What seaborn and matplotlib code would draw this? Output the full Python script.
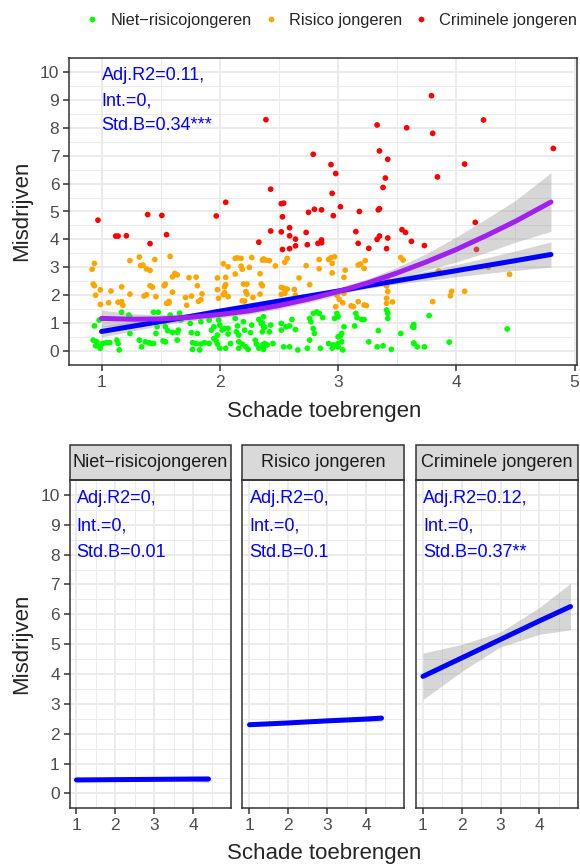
import matplotlib
matplotlib.use("Agg")
import matplotlib.pyplot as plt
from matplotlib.patches import Rectangle
from matplotlib.ticker import MultipleLocator
import pandas as pd
import seaborn as sns

GROUPS = ["Niet−risicojongeren", "Risico jongeren", "Criminele jongeren"]
GROUP_COLORS = ["#00FF00", "#FFA500", "#FF0000"]

# jittered points (schade toebrengen, misdrijven)
niet_pts = [
    (0.94, 0.9), (0.98, 1.11), (0.93, 0.39), (0.95, 0.19), (0.96, 0.33), (0.98, 0.18), (0.99, 0.1),
    (1.01, 0.27), (1.04, 0.3), (1.07, 0.3), (1.13, 0.39), (1.14, 0.27), (1.15, 0.04), (1.17, 1.39),
    (1.23, 1.29), (1.24, 1.23), (1.24, 0.63), (1.32, 0.39), (1.34, 0.15), (1.37, 0.33), (1.4, 0.3),
    (1.42, 0.27), (1.44, 0.27), (1.44, 1.39), (1.48, 1.39), (1.47, 0.87), (1.46, 0.63), (1.53, 1.05),
    (1.54, 0.87), (1.56, 0.73), (1.58, 1.29), (1.6, 0.67), (1.64, 0.67), (1.66, 1.36), (1.64, 0.39),
    (1.52, 0.36), (1.54, 0.33), (1.67, 1.11), (1.65, 0.75), (1.75, 0.99), (1.76, 0.66), (1.81, 0.63),
    (1.77, 0.3), (1.8, 0.27), (1.84, 0.25), (1.87, 0.3), (1.83, 0.04), (1.77, 0.06), (1.84, 1.05),
    (1.91, 1.11), (1.93, 0.75), (1.95, 0.87), (1.91, 0.27), (1.95, 0.45), (1.97, 0.36), (1.98, 0.25),
    (2.0, 0.1), (1.99, 1.11), (2.0, 0.93), (2.02, 0.75), (2.04, 0.81), (2.07, 0.81), (1.98, 0.57),
    (2.07, 0.61), (2.05, 0.1), (2.09, 0.27), (2.13, 1.17), (2.15, 0.9), (2.14, 0.69), (2.16, 0.57),
    (2.16, 0.33), (2.19, 0.25), (2.16, 0.1), (2.22, 0.15), (2.24, 0.06), (2.2, 1.05), (2.21, 0.75),
    (2.26, 0.66), (2.27, 0.93), (2.3, 0.39), (2.31, 0.25), (2.33, 0.1), (2.36, 0.22), (2.37, 0.06),
    (2.33, 1.13), (2.36, 1.01), (2.37, 0.87), (2.36, 0.69), (2.37, 1.23), (2.35, 0.99), (2.38, 0.85),
    (2.42, 0.69), (2.4, 0.22), (2.37, 0.15), (2.38, 0.27), (2.45, 0.27), (2.43, 0.93), (2.52, 0.99),
    (2.52, 0.75), (2.56, 0.87), (2.59, 0.9), (2.61, 1.13), (2.64, 0.77), (2.54, 0.15), (2.59, 0.15),
    (2.66, 0.04), (2.74, 0.1), (2.76, 0.39), (2.79, 0.81), (2.8, 0.63), (2.76, 1.17), (2.77, 1.05),
    (2.79, 1.35), (2.82, 1.4), (2.84, 1.35), (2.87, 1.2), (2.85, 0.1), (2.92, 0.27), (2.96, 0.22),
    (2.95, 0.1), (2.97, 1.17), (3.0, 0.51), (3.0, 0.15), (2.99, 1.35), (3.0, 1.23), (3.05, 0.87),
    (3.03, 0.63), (3.02, 0.54), (3.0, 0.27), (3.03, 0.33), (3.04, 0.04), (3.15, 1.35), (3.16, 1.2),
    (3.2, 1.13), (3.22, 1.13), (3.14, 0.9), (3.26, 0.33), (3.33, 0.15), (3.34, 0.73), (3.38, 0.19),
    (3.45, 0.06), (3.42, 1.17), (3.42, 1.35), (3.41, 1.47), (3.53, 0.63), (3.63, 0.87), (3.64, 0.27),
    (3.77, 1.27), (3.64, 0.95), (3.64, 0.85), (3.64, 0.29), (3.67, 0.15), (3.73, 0.15), (3.94, 0.32),
    (4.43, 0.79),
]
risico_pts = [
    (0.94, 3.14), (0.92, 2.93), (0.93, 2.4), (0.94, 2.34), (0.95, 2.0), (0.99, 2.19), (0.99, 1.67),
    (1.06, 1.73), (1.08, 2.15), (1.14, 1.75), (1.17, 1.77), (1.18, 1.64), (1.17, 2.3), (1.24, 3.24),
    (1.24, 2.04), (1.32, 3.37), (1.33, 3.06), (1.35, 3.08), (1.38, 2.94), (1.41, 2.89), (1.45, 3.28),
    (1.41, 2.34), (1.43, 2.29), (1.36, 1.97), (1.38, 2.02), (1.46, 1.95), (1.53, 2.34), (1.54, 2.4),
    (1.58, 3.39), (1.55, 1.71), (1.57, 1.78), (1.57, 1.72), (1.6, 2.66), (1.62, 2.78), (1.64, 2.73),
    (1.6, 2.11), (1.74, 2.63), (1.8, 2.65), (1.81, 2.34), (1.71, 1.92), (1.76, 1.97), (1.72, 1.64),
    (1.82, 1.78), (1.84, 1.84), (1.85, 2.05), (1.98, 2.62), (1.98, 2.2), (1.99, 1.89), (2.03, 3.13),
    (2.04, 2.3), (2.05, 2.38), (2.05, 2.64), (2.03, 2.02), (2.04, 2.09), (2.07, 3.02), (2.07, 1.95),
    (2.13, 3.32), (2.15, 3.34), (2.18, 3.32), (2.13, 2.76), (2.18, 3.04), (2.19, 2.93), (2.27, 3.35),
    (2.25, 3.0), (2.2, 2.4), (2.23, 2.4), (2.22, 2.13), (2.23, 2.04), (2.28, 1.92), (2.19, 1.8),
    (2.21, 1.79), (2.34, 2.77), (2.36, 2.34), (2.37, 3.3), (2.36, 3.26), (2.39, 3.26), (2.42, 3.24),
    (2.47, 3.05), (2.55, 3.18), (2.57, 3.32), (2.35, 2.4), (2.34, 2.04), (2.52, 2.28), (2.54, 2.25),
    (2.57, 2.22), (2.63, 2.21), (2.67, 2.62), (2.73, 3.06), (2.84, 3.28), (2.84, 2.95), (2.92, 3.28),
    (2.94, 3.35), (2.95, 3.14), (2.95, 2.8), (2.76, 2.38), (2.99, 2.0), (2.52, 2.03), (2.55, 2.07),
    (2.64, 2.0), (2.97, 3.38), (3.06, 2.9), (3.05, 2.64), (3.17, 3.08), (3.19, 3.12), (3.23, 3.24),
    (3.22, 2.96), (3.04, 2.13), (3.05, 2.07), (3.01, 1.85), (2.98, 1.59), (3.04, 1.73), (3.11, 1.62),
    (3.13, 1.59), (3.17, 1.77), (3.22, 1.65), (3.24, 1.63), (3.41, 2.33), (3.42, 2.13), (3.41, 1.89),
    (3.41, 1.71), (3.46, 1.76), (3.53, 3.35), (3.55, 3.26), (3.42, 2.54), (3.85, 2.87), (4.27, 3.0),
    (4.45, 2.75), (3.96, 2.14), (3.95, 1.98), (4.07, 2.14), (3.8, 1.77),
]
crimineel_pts = [
    (0.97, 4.69), (1.12, 4.12), (1.14, 4.12), (1.21, 4.13), (1.39, 4.89), (1.51, 4.86), (1.55, 4.17),
    (1.41, 3.85), (2.05, 5.33), (1.97, 4.84), (2.33, 3.9), (2.39, 8.29), (2.43, 5.8), (2.43, 4.3),
    (2.52, 5.28), (2.54, 5.3), (2.53, 4.81), (2.52, 4.27), (2.59, 4.42), (2.59, 4.13), (2.53, 3.64),
    (2.59, 3.67), (2.64, 4.01), (2.64, 3.77), (2.73, 4.25), (2.74, 3.81), (2.75, 4.97), (2.79, 7.05),
    (2.8, 5.08), (2.83, 3.86), (2.94, 6.68), (2.98, 6.36), (2.95, 5.65), (2.96, 4.85), (3.02, 5.17),
    (2.86, 5.06), (2.86, 3.98), (2.86, 3.88), (3.33, 8.1), (3.58, 8.0), (3.35, 7.17), (3.42, 6.87),
    (3.4, 6.2), (3.38, 5.86), (3.18, 5.0), (3.34, 5.06), (3.35, 5.1), (3.15, 4.28), (3.17, 3.86),
    (3.26, 3.68), (3.33, 4.0), (3.35, 4.12), (3.42, 4.05), (3.41, 3.67), (3.54, 4.35), (3.57, 4.25),
    (3.62, 3.93), (3.79, 9.15), (4.23, 8.28), (3.8, 7.8), (4.82, 7.26), (4.07, 6.7), (3.84, 6.24),
    (4.16, 4.61), (3.73, 3.78), (4.17, 3.64),
]

# fitted lines of the top panel (linear = blue, quadratic = purple) with their bands
fit_x = [1.0, 1.25, 1.5, 1.75, 2.0, 2.25, 2.5, 2.75, 3.0, 3.25, 3.5, 3.75, 4.0, 4.25, 4.5, 4.8]
lin_fit = [0.70, 0.88, 1.06, 1.24, 1.43, 1.61, 1.79, 1.97, 2.15, 2.34, 2.52, 2.70, 2.88, 3.06, 3.24, 3.46]
lin_lo = [0.50, 0.71, 0.91, 1.12, 1.33, 1.52, 1.71, 1.89, 2.07, 2.24, 2.40, 2.53, 2.66, 2.78, 2.89, 3.01]
lin_hi = [0.90, 1.05, 1.21, 1.36, 1.53, 1.70, 1.87, 2.05, 2.23, 2.44, 2.64, 2.87, 3.10, 3.34, 3.59, 3.91]
quad_fit = [1.17, 1.14, 1.15, 1.21, 1.31, 1.44, 1.63, 1.86, 2.13, 2.44, 2.80, 3.20, 3.64, 4.13, 4.65, 5.34]
quad_lo = [0.87, 0.94, 1.00, 1.08, 1.19, 1.32, 1.51, 1.74, 2.00, 2.29, 2.60, 2.90, 3.19, 3.53, 3.90, 4.29]
quad_hi = [1.47, 1.34, 1.30, 1.34, 1.43, 1.56, 1.75, 1.98, 2.26, 2.59, 3.00, 3.50, 4.09, 4.73, 5.40, 6.39]
top_labels = ["Adj.R2=0.11,", "Int.=0,", "Std.B=0.34***"]

# per group linear fits for the facets
facet_x = [[1.0, 2.0, 3.0, 4.0, 4.4], [1.0, 2.0, 3.0, 4.0, 4.4], [1.0, 2.0, 3.0, 4.0, 4.8]]
facet_fit = [[0.45, 0.46, 0.47, 0.48, 0.48], [2.30, 2.36, 2.43, 2.49, 2.52], [3.92, 4.54, 5.16, 5.78, 6.26]]
facet_lo = [[0.41, 0.43, 0.43, 0.39, 0.36], [2.24, 2.32, 2.38, 2.40, 2.40], [3.14, 4.09, 4.91, 5.33, 5.48]]
facet_hi = [[0.49, 0.49, 0.51, 0.57, 0.60], [2.36, 2.40, 2.48, 2.58, 2.64], [4.70, 4.99, 5.41, 6.23, 7.04]]
facet_labels = [
    ["Adj.R2=0,", "Int.=0,", "Std.B=0.01"],
    ["Adj.R2=0,", "Int.=0,", "Std.B=0.1"],
    ["Adj.R2=0.12,", "Int.=0,", "Std.B=0.37**"],
]
label_y = [9.88, 8.96, 8.08]

W, H = 580, 864


def set_config():
    sns.set_theme(style="white")
    plt.rcParams["font.family"] = ["Liberation Sans", "DejaVu Sans"]


def style_panel(ax, xlim, xticks):
    ax.set_xlim(*xlim)
    ax.set_ylim(-0.5, 10.5)
    ax.set_xticks(xticks)
    ax.set_yticks(range(11))
    ax.xaxis.set_minor_locator(MultipleLocator(0.5))
    ax.yaxis.set_minor_locator(MultipleLocator(0.5))
    ax.grid(which="major", color="#EBEBEB", lw=1.4)
    ax.grid(which="minor", color="#EBEBEB", lw=0.7)
    ax.set_axisbelow(True)
    for s in ax.spines.values():
        s.set_visible(True)
        s.set_color("#333333")
        s.set_linewidth(1.1)
    ax.tick_params(which="major", bottom=True, left=True, length=4, width=1.1, color="#333333",
                   labelcolor="#4D4D4D", labelsize=12.5, pad=3)
    ax.tick_params(which="minor", length=0)
    ax.set(xlabel="", ylabel="")


def draw_fit(ax, x, fit, lo, hi, color):
    ax.fill_between(x, lo, hi, color="#999999", alpha=0.4, lw=0, zorder=3)
    sns.lineplot(x=x, y=fit, color=color, lw=3.6, ax=ax, zorder=4)


def draw_labels(ax, texts):
    for txt, y in zip(texts, label_y):
        ax.text(1.0, y, txt, color="#0000FF", fontsize=13, ha="left", va="center", zorder=5)


def main():
    set_config()
    fig = plt.figure(figsize=(W / 100, H / 100), dpi=100)

    rows = []
    for grp, pts in zip(GROUPS, [niet_pts, risico_pts, crimineel_pts]):
        rows += [(x, y, grp) for x, y in pts]
    df = pd.DataFrame(rows, columns=["schade", "misdrijven", "groep"])

    # bovenste paneel: alle jongeren samen
    ax = fig.add_axes([69 / W, 1 - 365 / H, 508 / W, 307 / H])
    sns.scatterplot(data=df, x="schade", y="misdrijven", hue="groep", hue_order=GROUPS,
                    palette=GROUP_COLORS, s=17, linewidth=0, ax=ax, zorder=2)
    draw_fit(ax, fit_x, lin_fit, lin_lo, lin_hi, "#0000FF")
    draw_fit(ax, fit_x, quad_fit, quad_lo, quad_hi, "#A020F0")
    draw_labels(ax, top_labels)
    style_panel(ax, (0.725, 5.02), [1, 2, 3, 4, 5])
    sns.move_legend(ax, "center", bbox_to_anchor=(0.570, 0.976), bbox_transform=fig.transFigure,
                    ncol=3, title=None, frameon=False, fontsize=11.8, handlelength=1.0,
                    handletextpad=0.6, columnspacing=0.66)

    fig.text(22 / W, 1 - 211 / H, "Misdrijven", rotation=90, ha="center", va="center", fontsize=16)
    fig.text(324 / W, 1 - 411 / H, "Schade toebrengen", ha="center", va="center", fontsize=16)

    # onderste panelen: per groep
    lefts = [69.5, 242.5, 416]
    strip_h = 35.3 / 328.3
    for i, grp in enumerate(GROUPS):
        fax = fig.add_axes([lefts[i] / W, 1 - 808.3 / H, 161.5 / W, 328.3 / H])
        draw_fit(fax, facet_x[i], facet_fit[i], facet_lo[i], facet_hi[i], "#0000FF")
        draw_labels(fax, facet_labels[i])
        style_panel(fax, (0.82, 4.98), [1, 2, 3, 4])
        if i > 0:
            fax.tick_params(which="major", left=False, labelleft=False)
        fax.add_patch(Rectangle((0, 1), 1, strip_h, transform=fax.transAxes, clip_on=False,
                                facecolor="#D9D9D9", edgecolor="#333333", lw=1.1))
        fax.text(0.5, 1 + strip_h / 2, grp, transform=fax.transAxes, ha="center", va="center",
                 fontsize=13, color="#1A1A1A")

    fig.text(22 / W, 1 - 644 / H, "Misdrijven", rotation=90, ha="center", va="center", fontsize=16)
    fig.text(324 / W, 1 - 853 / H, "Schade toebrengen", ha="center", va="center", fontsize=16)

    fig.savefig("out.png", dpi=100)


if __name__ == "__main__":
    main()
